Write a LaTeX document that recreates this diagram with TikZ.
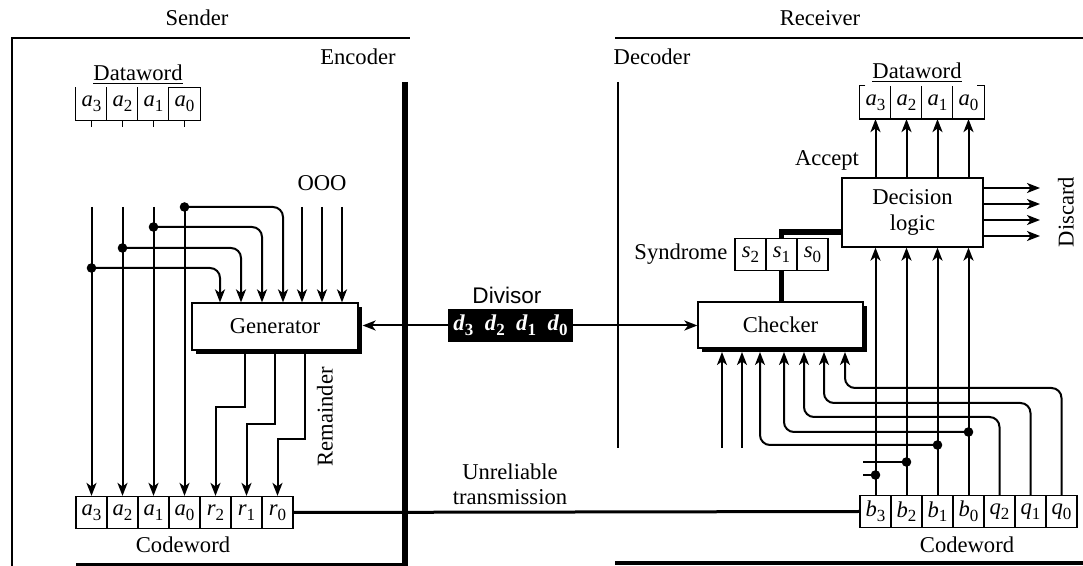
\documentclass[tikz,border=0pt]{standalone}
\usepackage{fontspec}
\setmainfont{Liberation Serif}
\setsansfont{Liberation Sans}
\usetikzlibrary{arrows.meta,shadows,calc}

% bit label: italic letter with a lowered digit
\newcommand{\bitlab}[2]{\textit{#1}\raisebox{-0.45ex}{\fontsize{8.5}{9}\selectfont #2}}

\tikzset{
  flow/.style={line width=1pt, -{Stealth[length=6.5pt,width=5pt,inset=1.8pt]}},
  wire/.style={line width=1pt},
  bus/.style={line width=2.6pt},
  wall/.style={line width=2.6pt},
  frame/.style={line width=0.6pt},
  cell/.style={draw, line width=0.6pt, minimum width=15.5pt, minimum height=16pt, inner sep=0pt},
  opencell/.style={cell, draw=none},
  unit/.style={draw, fill=white, line width=0.6pt, inner sep=0pt,
    drop shadow={fill=black, opacity=1, shadow xshift=1.8pt, shadow yshift=-1.8pt}},
}

\begin{document}
\begin{tikzpicture}[x=0.5pt, y=-0.5pt, every node/.style={font=\fontsize{11.3}{13}\selectfont}]
  \useasboundingbox (0,0) rectangle (1083,566);

  % --- Sender / Encoder ---
  \node (sender) at (197,18) {Sender};
  \node (encoder) at (358,57) {Encoder};
  \draw[frame] (12,566) -- (12,38) -- (410,38);
  \draw[wall] (405,82) -- (405,566);
  \draw[line width=2pt] (76,565) -- (405,565);

  % dataword
  \node (edwlab) at (138,75) {\underline{Dataword}};
  \foreach \l/\n [count=\i from 0] in {a/3,a/2,a/1,a/0}
    \node[opencell] (edw\i) at ({91.5+31*\i},104) {\bitlab{\l}{\n}};
  \draw[frame] (edw0.north west) -- (edw0.south west) -- (edw3.south east)
    -- (edw3.north east) -- (edw3.north west);
  \foreach \i in {1,2,3} \draw[frame] (edw\i.south west) -- (edw\i.north west);
  \foreach \i in {0,...,3} \draw[frame] (edw\i.south) -- ++(0,6);

  % codeword
  \foreach \l/\n [count=\i from 0] in {a/3,a/2,a/1,a/0,r/2,r/1,r/0}
    \node[cell] (ecw\i) at ({91.5+31*\i},512.5) {\bitlab{\l}{\n}};
  \node (ecwlab) at (183,545) {Codeword};

  % generator
  \node[unit, minimum width=83pt, minimum height=23.5pt] (gen) at (275,326.5) {Generator};
  \node (zeros) at (322,183) {OOO};

  % data lines and taps
  \foreach \i in {0,...,3}
    \draw[flow] (ecw\i.north |- 0,207) -- (ecw\i.north);
  \foreach \i/\y/\x in {0/268/220, 1/248/241, 2/227/262, 3/207/283} {
    \fill (ecw\i.north |- 0,\y) circle (2.4pt);
    \draw[flow, rounded corners=5pt] (ecw\i.north |- 0,\y) -| (\x,0 |- gen.north);
  }
  \foreach \x in {302,322,342}
    \draw[flow] (\x,207) -- (\x,0 |- gen.north);

  % remainder
  \foreach \x/\y/\i in {245/407/4, 275/424/5, 305/439/6}
    \draw[flow] (\x,0 |- gen.south) |- (ecw\i.north |- 0,\y) -- (ecw\i.north);
  \node[rotate=90] (remlab) at (325,417) {Remainder};

  % --- Divisor ---
  \node[fill=black, text=white, minimum width=62.5pt, minimum height=16.5pt, inner sep=0pt,
    font=\bfseries\fontsize{11.3}{13}\selectfont]
    (div) at (510.5,325.5) {\bitlab{d}{3}\enspace\bitlab{d}{2}\enspace\bitlab{d}{1}\enspace\bitlab{d}{0}};
  \node[font=\sffamily\fontsize{11.3}{13}\selectfont] (divlab) at (507,295) {Divisor};

  % --- Receiver / Decoder ---
  \node (receiver) at (820,18) {Receiver};
  \node (decoder) at (652,57) {Decoder};
  \draw[frame] (615,38) -- (1083,38);
  \draw[frame] (618,82) -- (618,448);
  \draw[line width=2pt] (615,563) -- (1083,563);

  \node[unit, minimum width=82.5pt, minimum height=23pt] (chk) at (780.5,325) {Checker};
  \node[draw, fill=white, line width=0.6pt, minimum width=70.5pt, minimum height=34.5pt,
    inner sep=0pt, align=center] (dec) at (912.5,212.5) {Decision\\logic};

  % dataword
  \node (rdwlab) at (917,73) {\underline{Dataword}};
  \foreach \l/\n [count=\i from 0] in {a/3,a/2,a/1,a/0}
    \node[opencell] (rdw\i) at ({875.5+31*\i},102.5) {\bitlab{\l}{\n}};
  \draw[frame] ([xshift=3pt]rdw0.north west) -- (rdw0.north west) -- (rdw0.south west)
    -- (rdw3.south east) -- (rdw3.north east) -- ([xshift=-4pt]rdw3.north east);
  \foreach \i in {1,2,3} \draw[frame] (rdw\i.south west) -- (rdw\i.north west);
  \node (acclab) at (827,160) {Accept};

  % codeword
  \foreach \l/\n [count=\i from 0] in {b/3,b/2,b/1,b/0,q/2,q/1,q/0}
    \node[cell] (rcw\i) at ({875.5+31*\i},511.5) {\bitlab{\l}{\n}};
  \node (rcwlab) at (967,545) {Codeword};

  % syndrome
  \foreach \l/\n [count=\i from 0] in {s/2,s/1,s/0}
    \node[cell] (syn\i) at ({750.5+31*\i},254.5) {\bitlab{\l}{\n}};
  \node[anchor=east] (synlab) at (syn0.west) {Syndrome};
  \draw[bus] (syn1.north) |- (dec.west |- 0,232);
  \draw[bus] (syn1.south) -- (syn1.south |- chk.north);

  % accept / discard
  \foreach \i in {0,...,3} {
    \draw[flow] (rdw\i.south |- dec.north) -- (rdw\i.south);
    \draw[flow] (rcw\i.north) -- (rcw\i.north |- dec.south);
  }
  \foreach \y in {188,204,220,236}
    \draw[flow] (dec.east |- 0,\y) -- (1040,\y);
  \node[rotate=90] (dislab) at (1066,212) {Discard};

  % checker inputs
  \foreach \x in {722,742}
    \draw[flow] (\x,448) -- (\x,352);
  \foreach \i/\y in {0/475, 1/462} {
    \draw[wire] (863,\y) -- (rcw\i.north |- 0,\y);
    \fill (rcw\i.north |- 0,\y) circle (2.4pt);
  }
  \foreach \i/\y/\x in {2/445/760, 3/432/784} {
    \fill (rcw\i.north |- 0,\y) circle (2.4pt);
    \draw[flow, rounded corners=5pt] (rcw\i.north |- 0,\y) -| (\x,352);
  }
  \foreach \i/\y/\x in {4/417/804, 5/403/824, 6/388/845}
    \draw[flow, rounded corners=5pt] (rcw\i.north) |- (\x,\y) -- (\x,352);

  % --- links between the two sides ---
  \draw[flow] (div.west) -- ($(div.west -| gen.east)+(4,0)$);
  \draw[flow] (div.east) -- (div.east -| chk.west);
  \draw[line width=1.5pt] (ecw6.east) -- (rcw0.west);
  \node[align=center, font=\fontsize{11.3}{12.5}\selectfont] (unrel) at (510,484)
    {Unreliable\\transmission};
\end{tikzpicture}
\end{document}
